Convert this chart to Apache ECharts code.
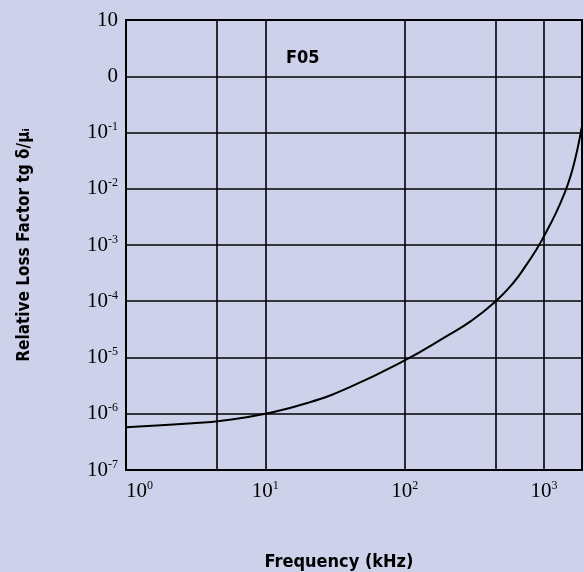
<!DOCTYPE html>
<html>
<head>
<meta charset="utf-8">
<script src="https://cdn.jsdelivr.net/npm/echarts@6/dist/echarts.min.js"></script>
<style>
  html, body { margin: 0; padding: 0; background: #cdd2ea; }
  #chart { width: 584px; height: 572px; }
</style>
</head>
<body>
<div id="chart"></div>
<script>
// frequency in kHz
const freq = [1, 3, 5, 10, 20, 40, 100, 200, 300, 450, 600, 750, 900, 1000, 1200, 1400, 1550, 1700, 1800, 1860];
// relative loss factor tg d / mu_i
const loss = [5.75e-7, 6.76e-7, 7.6e-7, 1.0e-6, 1.55e-6, 2.95e-6, 8.9e-6, 2.4e-5, 4.47e-5, 1.0e-4, 2.11e-4, 4.52e-4, 9.1e-4, 1.45e-3, 3.47e-3, 8.3e-3, 1.70e-2, 4.07e-2, 7.9e-2, 0.123];
// extra vertical grid lines of the original sheet (kHz)
const extraGridX = [4.5, 452];
const xMin = 1, xMax = 1870;
const yMin = 1e-7, yMax = 10;
const curveName = 'F05';

const serif = '"Liberation Serif", "DejaVu Serif", serif';
const narrow = '"Liberation Sans Narrow", "DejaVu Sans Condensed", "Roboto Condensed", "Liberation Sans", sans-serif';

function powLabel(v, isY) {
  const e = Math.round(Math.log10(v));
  if (isY && e === 1) return '{b|10}';
  if (isY && e === 0) return '{b|0}';
  return '{b|10}{s|' + e + '}';
}

const richLabel = {
  b: { fontFamily: serif, fontSize: 21, color: '#000' },
  s: { fontFamily: serif, fontSize: 12, color: '#000', padding: [0, 0, 11, 0] }
};

const chart = echarts.init(document.getElementById('chart'));
chart.setOption({
  backgroundColor: '#cdd2ea',
  animation: false,
  title: {
    text: curveName,
    left: 281,
    top: 44,
    textStyle: { fontFamily: narrow, fontWeight: 'bold', fontSize: 18, color: '#000' }
  },
  grid: {
    left: 126, right: 2, top: 20, bottom: 102,
    containLabel: false,
    outerBoundsMode: 'none',
    show: true, borderColor: '#000', borderWidth: 2, backgroundColor: 'transparent'
  },
  xAxis: {
    type: 'log',
    logBase: 10,
    min: xMin,
    max: xMax,
    name: 'Frequency (kHz)',
    nameLocation: 'middle',
    nameGap: 83,
    nameTextStyle: { fontFamily: narrow, fontWeight: 'bold', fontSize: 18, color: '#000', padding: [0, 30, 0, 0] },
    axisLine: { show: true, lineStyle: { color: '#000', width: 2 } },
    axisTick: { show: false },
    axisLabel: {
      margin: 10,
      showMaxLabel: false,
      alignMinLabel: 'left',
      formatter: v => powLabel(v, false),
      rich: richLabel
    },
    splitLine: { show: true, lineStyle: { color: '#000', width: 1.6 } }
  },
  yAxis: {
    type: 'log',
    logBase: 10,
    min: yMin,
    max: yMax,
    name: 'Relative Loss Factor tg δ/μᵢ',
    nameLocation: 'middle',
    nameGap: 93,
    nameTextStyle: { fontFamily: narrow, fontWeight: 'bold', fontSize: 17, color: '#000' },
    axisLine: { show: true, lineStyle: { color: '#000', width: 2 } },
    axisTick: { show: false },
    axisLabel: {
      margin: 8,
      formatter: v => powLabel(v, true),
      rich: richLabel
    },
    splitLine: { show: true, lineStyle: { color: '#000', width: 1.6 } }
  },
  series: [{
    name: curveName,
    type: 'line',
    data: freq.map((f, i) => [f, loss[i]]),
    smooth: true,
    showSymbol: false,
    lineStyle: { color: '#000', width: 2 },
    markLine: {
      silent: true,
      symbol: 'none',
      label: { show: false },
      lineStyle: { color: '#000', width: 1.6, type: 'solid' },
      data: extraGridX.map(x => ({ xAxis: x }))
    }
  }]
});
</script>
</body>
</html>
